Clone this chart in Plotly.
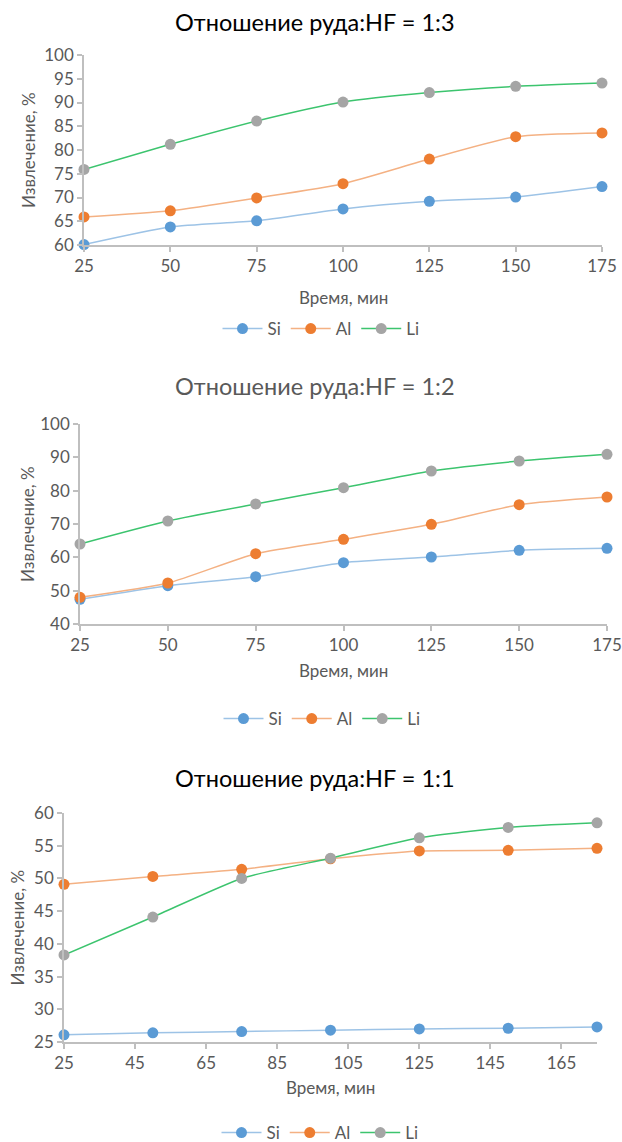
import plotly.graph_objects as go
from plotly.subplots import make_subplots

W, H = 622, 1142
time = [25, 50, 75, 100, 125, 150, 175]

titles = ["Отношение руда:HF = 1:3", "Отношение руда:HF = 1:2", "Отношение руда:HF = 1:1"]
series_names = ["Si", "Al", "Li"]

si_13 = [60.1, 63.8, 65.1, 67.6, 69.2, 70.1, 72.3]
al_13 = [65.9, 67.2, 69.9, 72.9, 78.1, 82.8, 83.6]
li_13 = [75.9, 81.2, 86.1, 90.1, 92.1, 93.4, 94.1]

si_12 = [47.4, 51.5, 54.2, 58.4, 60.1, 62.1, 62.7]
al_12 = [48.0, 52.3, 61.1, 65.4, 69.9, 75.8, 78.1]
li_12 = [64.0, 70.9, 76.0, 80.9, 85.9, 88.9, 90.9]

si_11 = [26.1, 26.4, 26.6, 26.8, 27.0, 27.1, 27.3]
al_11 = [49.1, 50.3, 51.4, 53.0, 54.2, 54.3, 54.6]
li_11 = [38.3, 44.1, 50.0, 53.1, 56.2, 57.8, 58.5]

data = [[si_13, al_13, li_13], [si_12, al_12, li_12], [si_11, al_11, li_11]]

y_ranges = [(60, 100, 5), (40, 100, 10), (25, 60, 5)]
x_ticks = [(25, 25), (25, 25), (25, 20)]
# plot boxes in pixels: x0, x1, ytop, ybottom
boxes = [(84, 602, 55, 245), (80, 607, 424, 624), (64, 597, 813, 1042)]
title_y = [22, 386, 778]
title_col = ["#000000", "#595959", "#000000"]
xtitle_y = [297, 670, 1087]
ytitle_x = [28, 27, 17]
legend_y = [329, 719, 1133]
legend_x = [321, 322, 320]

marker_cols = ["#5B9BD5", "#ED7D31", "#A5A5A5"]
line_cols = ["#9DC3E6", "#F4B183", "#3CC46E"]

FONT = "Lato, 'Noto Sans', sans-serif"
TICK = 17

fig = make_subplots(rows=3, cols=1)
annotations = []
for i in range(3):
    x0, x1, yt, yb = boxes[i]
    leg = "legend" if i == 0 else f"legend{i+1}"
    for j in range(3):
        fig.add_trace(go.Scatter(
            x=time, y=data[i][j], name=series_names[j], mode="lines+markers",
            line=dict(color=line_cols[j], width=1.5, shape="spline", smoothing=0.6),
            marker=dict(color=marker_cols[j], size=11),
            legend=leg, cliponaxis=False), row=i + 1, col=1)
    ax = "" if i == 0 else str(i + 1)
    lo, hi, dt = y_ranges[i]
    xs, xd = x_ticks[i]
    fig.layout["xaxis" + ax].update(
        domain=[x0 / W, x1 / W], range=[25, 175], tick0=xs, dtick=xd, automargin=False,
        ticklabeloverflow="allow",
        showgrid=False, zeroline=False, showline=True, linecolor="#BFBFBF", linewidth=1.5,
        ticks="outside", ticklen=5, tickcolor="#BFBFBF", tickwidth=1.5,
        tickfont=dict(family=FONT, size=TICK, color="#595959"))
    fig.layout["yaxis" + ax].update(
        domain=[1 - yb / H, 1 - yt / H], range=[lo, hi], dtick=dt, automargin=False,
        ticklabeloverflow="allow",
        showgrid=False, zeroline=False, showline=True, linecolor="#BFBFBF", linewidth=1.5,
        ticks="outside", ticklen=5, tickcolor="#BFBFBF", tickwidth=1.5,
        tickfont=dict(family=FONT, size=TICK, color="#595959"))
    annotations.append(dict(text=titles[i], x=315 / W, y=1 - title_y[i] / H, xref="paper", yref="paper",
                            showarrow=False, xanchor="center", yanchor="middle",
                            font=dict(family=FONT, size=23.5, color=title_col[i])))
    annotations.append(dict(text="Время, мин", x=(x0 + x1) / 2 / W, y=1 - xtitle_y[i] / H, xref="paper", yref="paper",
                            showarrow=False, xanchor="center", yanchor="middle",
                            font=dict(family=FONT, size=TICK, color="#595959")))
    annotations.append(dict(text="Извлечение, %", x=ytitle_x[i] / W, y=1 - (yt + yb) / 2 / H, xref="paper", yref="paper",
                            showarrow=False, xanchor="center", yanchor="middle", textangle=-90,
                            font=dict(family=FONT, size=TICK, color="#595959")))
    fig.layout[leg] = dict(orientation="h", x=legend_x[i] / W, y=1 - legend_y[i] / H,
                           xanchor="center", yanchor="middle", bgcolor="rgba(0,0,0,0)",
                           font=dict(family=FONT, size=TICK, color="#595959"),
                           itemwidth=40, tracegroupgap=0)

fig.update_layout(width=W, height=H, margin=dict(l=0, r=0, t=0, b=0, autoexpand=False),
                  paper_bgcolor="white", plot_bgcolor="white",
                  annotations=annotations, font=dict(family=FONT))
fig.write_html("out.html")
